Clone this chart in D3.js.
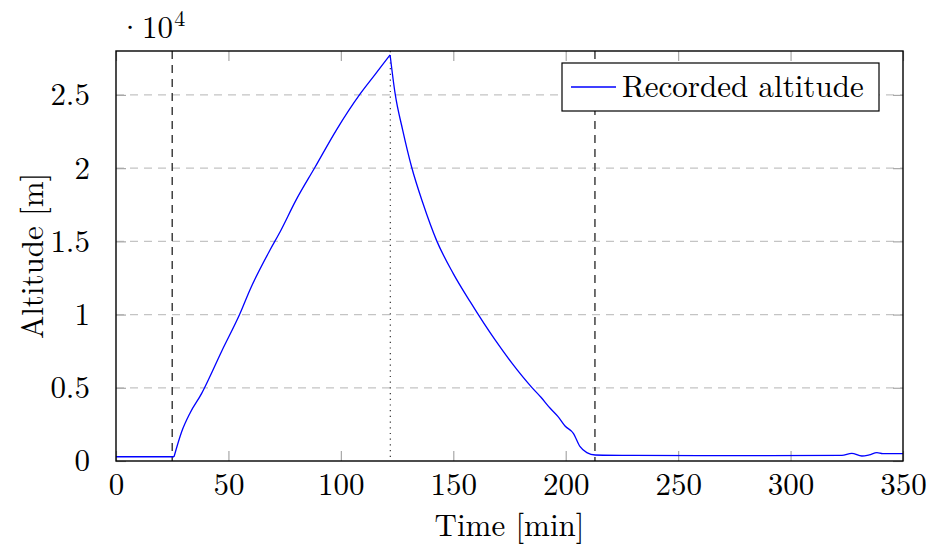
<!DOCTYPE html>
<html>
<head>
<meta charset="utf-8">
<script src="https://cdn.jsdelivr.net/npm/d3@7"></script>
<style>
  body { margin: 0; background: #fff; }
  text { font-family: "Latin Modern Roman", "Liberation Serif", serif; fill: #000; }
</style>
</head>
<body>
<div id="chart"></div>
<script>
// recorded flight, time in minutes, altitude in metres
var times = [0, 10, 20, 25.8, 29.2, 33, 38.1, 39.6, 47, 55.2, 59.6, 68.5, 73, 80, 88.5, 98, 108.5, 115, 121.9,
  124.1, 127.5, 131.5, 136.5, 142.6, 150, 157.5, 168.6, 176, 184.9, 189, 193.1, 196.5, 199.7, 203.4,
  206.4, 209.4, 213.1, 230, 260, 290, 322.8, 327.2, 331.7, 335, 338.4, 341, 345, 350];
var altitudes = [290, 290, 290, 290, 2000, 3300, 4620, 5075, 7500, 10090, 11700, 14410, 15660, 17800, 20060, 22600, 25050, 26350, 27730,
  25120, 22600, 20060, 17600, 15050, 12800, 10880, 8265, 6700, 5030, 4350, 3600, 3050, 2390, 1890,
  980, 570, 410, 380, 370, 370, 380, 525, 340, 420, 570, 500, 500, 500];
// launch and burst happen at these sample indices (sharp corners)
var breaks = [3, 18];
var markerTimes = [25, 122, 213];
var markerStyles = ["dashed", "dotted", "dashed"];
var xTicks = [0, 50, 100, 150, 200, 250, 300, 350];
var yTicks = [0, 5000, 10000, 15000, 20000, 25000];
var seriesName = "Recorded altitude";

var margin = { top: 51, right: 25, bottom: 83, left: 116 };
var width = 928 - margin.left - margin.right;
var height = 544 - margin.top - margin.bottom;

var svg = d3.select("#chart").append("svg")
  .attr("width", 928)
  .attr("height", 544)
  .append("g")
  .attr("transform", "translate(" + margin.left + "," + margin.top + ")");

var x = d3.scaleLinear().domain([0, 350]).range([0, width]);
var y = d3.scaleLinear().domain([0, 28000]).range([height, 0]);

// grid
svg.selectAll(".grid")
  .data(yTicks.slice(1))
  .enter().append("line")
  .attr("x1", 0).attr("x2", width)
  .attr("y1", function(d) { return y(d); })
  .attr("y2", function(d) { return y(d); })
  .style("stroke", "#c4c4c4")
  .style("stroke-width", 1.2)
  .style("stroke-dasharray", "8,6");

// inner ticks, mirrored on both sides
function tickAxis(axis, tr) {
  var g = svg.append("g").attr("transform", tr).call(axis);
  g.select(".domain").remove();
  g.selectAll("line").style("stroke", "#a8a8a8").style("stroke-width", 1.2);
  return g;
}
var fmtY = function(d) { return d3.format("")(d / 10000); };
var bottom = tickAxis(d3.axisBottom(x).tickValues(xTicks).tickSizeInner(-10).tickPadding(12), "translate(0," + height + ")");
bottom.selectAll("text").style("font-size", "31px").attr("dy", "0.71em");
tickAxis(d3.axisTop(x).tickValues(xTicks).tickSizeInner(-10).tickFormat(""), "translate(0,0)");
var left = tickAxis(d3.axisLeft(y).tickValues(yTicks).tickSizeInner(-10).tickPadding(26).tickFormat(fmtY), "translate(0,0)");
left.selectAll("text").style("font-size", "31px");
tickAxis(d3.axisRight(y).tickValues(yTicks).tickSizeInner(-10).tickFormat(""), "translate(" + width + ",0)");
svg.selectAll(".tick text").style("font-family", "'Latin Modern Roman', 'Liberation Serif', serif").attr("fill", "#000");

// event markers
svg.selectAll(".marker")
  .data(markerTimes)
  .enter().append("line")
  .attr("x1", function(d) { return x(d); })
  .attr("x2", function(d) { return x(d); })
  .attr("y1", 0).attr("y2", height)
  .style("stroke", "#333")
  .style("stroke-width", function(d, i) { return markerStyles[i] == "dotted" ? 1.2 : 1.4; })
  .style("stroke-dasharray", function(d, i) { return markerStyles[i] == "dotted" ? "1.2,4.5" : "8,6"; });

// altitude curve, drawn piecewise so launch and burst stay sharp
var line = d3.line()
  .x(function(d) { return x(d.t); })
  .y(function(d) { return y(d.a); })
  .curve(d3.curveMonotoneX);

var pts = times.map(function(t, i) { return { t: t, a: altitudes[i] }; });
var cuts = [0].concat(breaks, [pts.length - 1]);
var pieces = [];
for (var k = 0; k < cuts.length - 1; k++) pieces.push(pts.slice(cuts[k], cuts[k + 1] + 1));

svg.selectAll(".alt")
  .data(pieces)
  .enter().append("path")
  .attr("d", line)
  .style("fill", "none")
  .style("stroke", "#0000ff")
  .style("stroke-width", 1.3)
  .style("stroke-linejoin", "round");

// frame
svg.append("rect")
  .attr("width", width).attr("height", height)
  .style("fill", "none")
  .style("stroke", "#000")
  .style("stroke-width", 1.4);

// scale factor label
var sf = svg.append("text")
  .attr("x", 2).attr("y", -13)
  .style("font-size", "31px");
sf.append("tspan").text("\u00b710");
sf.append("tspan").attr("dy", -12).attr("dx", 1).style("font-size", "22px").text("4");

// axis titles
svg.append("text")
  .attr("x", width / 2).attr("y", height + 75)
  .attr("text-anchor", "middle")
  .style("font-size", "31px")
  .text("Time [min]");
svg.append("text")
  .attr("transform", "translate(-73," + (height / 2) + ") rotate(-90)")
  .attr("text-anchor", "middle")
  .style("font-size", "31px")
  .text("Altitude [m]");

// legend
var legend = svg.append("g").attr("transform", "translate(" + (width - 341) + ",12)");
legend.append("rect")
  .attr("width", 317).attr("height", 48)
  .style("fill", "#fff")
  .style("stroke", "#000")
  .style("stroke-width", 1.2);
legend.append("line")
  .attr("x1", 9).attr("x2", 54).attr("y1", 24).attr("y2", 24)
  .style("stroke", "#0000ff").style("stroke-width", 1.3);
legend.append("text")
  .attr("x", 60).attr("y", 34)
  .style("font-size", "31px")
  .text(seriesName);
</script>
</body>
</html>
